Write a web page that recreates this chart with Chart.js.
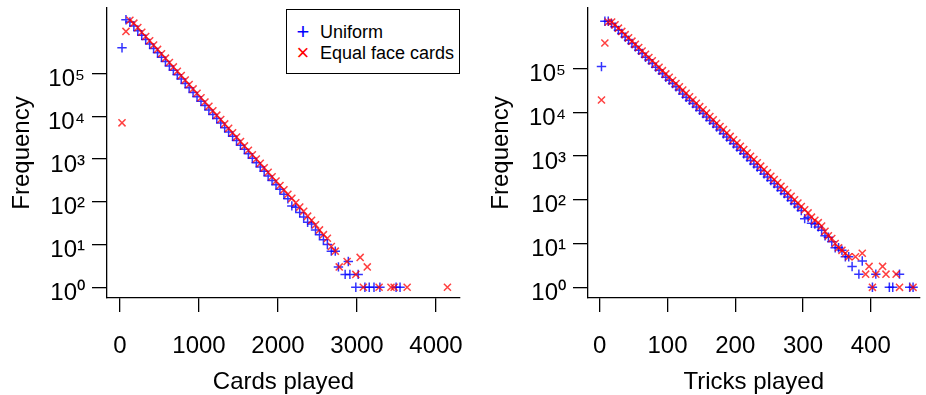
<!DOCTYPE html>
<html>
<head>
<meta charset="utf-8">
<script src="https://cdn.jsdelivr.net/npm/chart.js@4.4.1/dist/chart.umd.min.js"></script>
<style>
  html, body { margin: 0; padding: 0; background: #fff; overflow: hidden; }
  #wrap { position: relative; width: 926px; height: 395px; }
  canvas { position: absolute; top: 0; }
  #cards { left: 0; }
  #tricks { left: 470px; }
  #legend {
    position: absolute; left: 286px; top: 9px; width: 174px; height: 65px;
    box-sizing: border-box; border: 1.5px solid #000; background: #fff;
    font-family: "Liberation Sans", Arial, sans-serif; color: #000;
  }
  #legend .row { position: absolute; left: 0; height: 22px; line-height: 22px; font-size: 18px; white-space: nowrap; }
  #legend .mk { position: absolute; left: 8px; width: 16px; text-align: center; font-size: 22px; }
  #legend .lb { position: absolute; left: 33px; }
</style>
</head>
<body>
<div id="wrap">
  <canvas id="cards" width="470" height="395"></canvas>
  <canvas id="tricks" width="456" height="395"></canvas>
  <div id="legend">
    <div class="row" style="top:11px"><span class="mk" style="color:#0000ff">+</span><span class="lb">Uniform</span></div>
    <div class="row" style="top:32px"><span class="mk" style="color:#ff0000">×</span><span class="lb">Equal face cards</span></div>
  </div>
</div>
<script>
// tick labels
const yTickValues = [1, 10, 100, 1000, 10000, 100000];
const yTickLabels = ['10⁰', '10¹', '10²', '10³', '10⁴', '10⁵'];
const cardsTicks = [0, 1000, 2000, 3000, 4000];
const tricksTicks = [0, 100, 200, 300, 400];

// cards played: bin positions shared by both series
const cardsBins = [
  25, 75, 125, 175, 225, 275, 325, 375, 425, 475,
  525, 575, 625, 675, 725, 775, 825, 875, 925, 975,
  1025, 1075, 1125, 1175, 1225, 1275, 1325, 1375, 1425, 1475,
  1525, 1575, 1625, 1675, 1725, 1775, 1825, 1875, 1925, 1975,
  2025, 2075, 2125, 2175, 2225, 2275, 2325, 2375, 2425, 2475,
  2525, 2575, 2625, 2675, 2725
];
const cardsUniform = [
  400000, 1800000, 1600000, 1280000, 1000000, 780000, 620000, 490000, 385000, 305000,
  240000, 190000, 150000, 118000, 93000, 74000, 58000, 46000, 36000, 28500,
  22500, 17700, 14000, 11000, 8800, 6900, 5400, 4300, 3400, 2700,
  2100, 1680, 1330, 1040, 820, 650, 515, 400, 315, 250,
  195, 150, 118, 80, 74, 56, 44, 33, 30, 22,
  17, 13, 10, 7, 7
];
const cardsEqual = [
  7000, 960000, 1750000, 1500000, 1180000, 920000, 730000, 580000, 460000, 365000,
  288000, 228000, 180000, 142000, 112000, 89000, 70000, 55000, 43500, 34500,
  27000, 21500, 17000, 13400, 10600, 8400, 6600, 5200, 4100, 3250,
  2550, 2020, 1600, 1260, 1000, 790, 620, 490, 385, 305,
  240, 190, 150, 120, 95, 75, 60, 46, 37, 29,
  22, 17, 14, 9, 7
];
const cardsUniformTailX = [2765, 2850, 2890, 2910, 2985, 3015, 3100, 3155, 3215, 3290, 3495, 3545];
const cardsUniformTailY = [3, 2, 4, 2, 1, 2, 1, 1, 1, 1, 1, 1];
const cardsEqualTailX = [2775, 2875, 2985, 3040, 3080, 3130, 3280, 3430, 3470, 3635, 4145];
const cardsEqualTailY = [3, 4, 2, 5, 1, 3, 1, 1, 1, 1, 1];

// tricks played
const tricksBins = [
  2.5, 7.5, 12.5, 17.5, 22.5, 27.5, 32.5, 37.5, 42.5, 47.5,
  52.5, 57.5, 62.5, 67.5, 72.5, 77.5, 82.5, 87.5, 92.5, 97.5,
  102.5, 107.5, 112.5, 117.5, 122.5, 127.5, 132.5, 137.5, 142.5, 147.5,
  152.5, 157.5, 162.5, 167.5, 172.5, 177.5, 182.5, 187.5, 192.5, 197.5,
  202.5, 207.5, 212.5, 217.5, 222.5, 227.5, 232.5, 237.5, 242.5, 247.5,
  252.5, 257.5, 262.5, 267.5, 272.5, 277.5, 282.5, 287.5, 292.5, 297.5,
  302.5, 307.5, 312.5, 317.5, 322.5, 327.5, 332.5, 337.5, 342.5, 347.5,
  352.5, 357.5, 362.5, 367.5
];
const tricksUniform = [
  110000, 1200000, 1200000, 1050000, 890000, 740000, 630000, 520000, 440000, 370000,
  310000, 260000, 220000, 180000, 155000, 129000, 107000, 91000, 76000, 63000,
  54000, 45000, 38000, 32000, 26000, 22000, 18600, 15800, 13200, 11000,
  9300, 7800, 6500, 5500, 4600, 3900, 3200, 2700, 2300, 1900,
  1600, 1350, 1120, 950, 790, 660, 560, 470, 390, 330,
  275, 234, 195, 162, 138, 115, 96, 81, 68, 57,
  37, 40, 29, 28, 24, 20, 15, 14, 11, 8,
  8, 7, 5, 5
];
const tricksEqual = [
  19000, 380000, 1150000, 1150000, 990000, 830000, 700000, 590000, 500000, 420000,
  355000, 300000, 250000, 210000, 178000, 150000, 126000, 106000, 89000, 75000,
  63000, 53000, 45000, 38000, 32000, 27000, 22500, 19000, 16000, 13400,
  11300, 9500, 8000, 6700, 5600, 4700, 4000, 3350, 2800, 2350,
  1980, 1660, 1400, 1170, 980, 830, 700, 585, 490, 410,
  345, 290, 243, 204, 171, 143, 120, 100, 84, 70,
  59, 50, 40, 34, 30, 25, 19, 15, 13, 10,
  8, 7, 6, 5
];
const tricksUniformTailX = [372.5, 382.5, 387.5, 402.5, 407.5, 427.5, 432.5, 442.5, 457.5, 462.5];
const tricksUniformTailY = [3, 2, 4, 1, 2, 1, 1, 2, 1, 1];
const tricksEqualTailX = [377.5, 387.5, 392.5, 397.5, 402.5, 407.5, 417.5, 422.5, 437.5, 442.5, 462.5];
const tricksEqualTailY = [5, 6, 2, 3, 1, 2, 3, 2, 2, 1, 1];

const blue = 'rgba(0, 0, 255, 0.8)';
const red = 'rgba(255, 0, 0, 0.75)';

Chart.defaults.font.family = '"Liberation Sans", Arial, Helvetica, sans-serif';
Chart.defaults.color = '#000';

const toPoints = (xs, ys) => xs.map((x, i) => ({ x: x, y: ys[i] }));

function makeChart(id, opts) {
  const ctx = document.getElementById(id).getContext('2d');
  return new Chart(ctx, {
    type: 'scatter',
    data: {
      datasets: [{
        label: 'Uniform',
        data: opts.uniform,
        pointStyle: 'cross',
        pointRadius: 4.7,
        borderColor: blue,
        backgroundColor: blue,
        borderWidth: 1.5,
        order: 2,
      }, {
        label: 'Equal face cards',
        data: opts.equal,
        pointStyle: 'crossRot',
        pointRadius: 5,
        borderColor: red,
        backgroundColor: red,
        borderWidth: 1.5,
        order: 1,
      }]
    },
    options: {
      responsive: false,
      animation: false,
      devicePixelRatio: 1,
      events: [],
      layout: { padding: { top: 8, right: opts.rightPad, left: 0, bottom: 0 } },
      plugins: { legend: { display: false }, tooltip: { enabled: false } },
      scales: {
        x: {
          type: 'linear',
          min: opts.xMin,
          max: opts.xMax,
          afterBuildTicks: s => { s.ticks = opts.xTicks.map(v => ({ value: v })); },
          // fixed axis box, no extra label padding, so the plot area lands where the original is
          afterFit: s => { s.height = 97; s.paddingLeft = 0; s.paddingRight = 0; },
          ticks: { font: { size: 24 }, padding: 20, maxRotation: 0, autoSkip: false, callback: v => String(v) },
          grid: { display: true, drawOnChartArea: false, drawTicks: true, tickLength: 14, color: '#000', lineWidth: 1.3 },
          border: { display: true, color: '#000', width: 1.3 },
          title: { display: true, text: opts.xTitle, font: { size: 24 }, padding: { top: 0, bottom: -2 } }
        },
        y: {
          type: 'logarithmic',
          min: opts.yMin,
          max: opts.yMax,
          afterBuildTicks: s => { s.ticks = yTickValues.map(v => ({ value: v })); },
          afterFit: s => { s.width = opts.yWidth; s.paddingTop = 0; s.paddingBottom = 0; },
          ticks: { font: { size: 24 }, padding: 7, labelOffset: 6, autoSkip: false, callback: (v, i) => yTickLabels[i] },
          grid: { display: true, drawOnChartArea: false, drawTicks: true, tickLength: 15, color: '#000', lineWidth: 1.3 },
          border: { display: true, color: '#000', width: 1.3 },
          title: { display: true, text: 'Frequency', font: { size: 24 }, padding: { top: opts.titlePad, bottom: 0 } }
        }
      }
    }
  });
}

makeChart('cards', {
  uniform: toPoints(cardsBins, cardsUniform).concat(toPoints(cardsUniformTailX, cardsUniformTailY)),
  equal: toPoints(cardsBins, cardsEqual).concat(toPoints(cardsEqualTailX, cardsEqualTailY)),
  xMin: -165, xMax: 4304, xTicks: cardsTicks, xTitle: 'Cards played',
  yMin: 0.562, yMax: 3390000, yWidth: 107, titlePad: 8, rightPad: 10
});

makeChart('tricks', {
  uniform: toPoints(tricksBins, tricksUniform).concat(toPoints(tricksUniformTailX, tricksUniformTailY)),
  equal: toPoints(tricksBins, tricksEqual).concat(toPoints(tricksEqualTailX, tricksEqualTailY)),
  xMin: -17.4, xMax: 472, xTicks: tricksTicks, xTitle: 'Tricks played',
  yMin: 0.57, yMax: 2400000, yWidth: 118, titlePad: 17, rightPad: 0
});
</script>
</body>
</html>
